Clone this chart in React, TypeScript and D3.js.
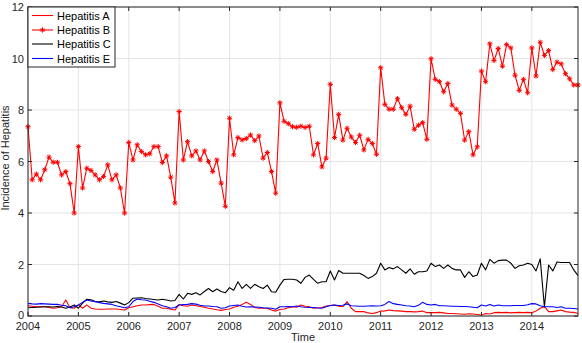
import React from "react";
import * as d3 from "d3";

const startYear = 2004;
const yearTicks = [2004, 2005, 2006, 2007, 2008, 2009, 2010, 2011, 2012, 2013, 2014];
const yTicks = [0, 2, 4, 6, 8, 10, 12];
const seriesNames = ["Hepatitis A", "Hepatitis B", "Hepatitis C", "Hepatitis E"];
const seriesColors = ["#ff0000", "#ff0000", "#000000", "#0000ff"];

const hepA = [
  0.40, 0.38, 0.36, 0.36, 0.36, 0.33, 0.30, 0.32, 0.36, 0.62, 0.32, 0.30,
  0.43, 0.30, 0.43, 0.30, 0.27, 0.26, 0.26, 0.27, 0.27, 0.27, 0.25, 0.23,
  0.32, 0.36, 0.40, 0.43, 0.43, 0.44, 0.45, 0.38, 0.30, 0.30, 0.26, 0.23,
  0.45, 0.40, 0.38, 0.43, 0.40, 0.37, 0.34, 0.30, 0.27, 0.24, 0.22, 0.25,
  0.27, 0.34, 0.38, 0.45, 0.53, 0.45, 0.33, 0.30, 0.30, 0.30, 0.23, 0.19,
  0.25, 0.27, 0.32, 0.36, 0.34, 0.43, 0.38, 0.36, 0.30, 0.32, 0.33, 0.39,
  0.41, 0.43, 0.38, 0.36, 0.56, 0.30, 0.17, 0.17, 0.17, 0.12, 0.10, 0.13,
  0.19, 0.20, 0.23, 0.21, 0.20, 0.19, 0.17, 0.17, 0.16, 0.17, 0.19, 0.13,
  0.13, 0.13, 0.14, 0.12, 0.10, 0.10, 0.09, 0.08, 0.07, 0.09, 0.08, 0.06,
  0.04, 0.10, 0.08, 0.13, 0.14, 0.13, 0.14, 0.12, 0.13, 0.14, 0.13, 0.14,
  0.13, 0.19, 0.30, 0.36, 0.17, 0.17, 0.20, 0.23, 0.17, 0.15, 0.14, 0.10,
];

const hepB = [
  7.35, 5.29, 5.51, 5.29, 5.68, 6.17, 5.97, 5.97, 5.48, 5.61, 5.14, 4.00,
  6.58, 4.97, 5.74, 5.65, 5.48, 5.29, 5.42, 5.87, 5.29, 5.48, 4.97, 4.00,
  6.74, 6.06, 6.65, 6.39, 6.26, 6.30, 6.58, 6.58, 5.96, 6.22, 5.39, 4.39,
  7.94, 6.06, 6.77, 6.22, 6.41, 6.06, 6.41, 6.00, 5.61, 6.06, 5.16, 4.26,
  7.68, 6.26, 6.93, 6.84, 6.89, 7.03, 6.81, 6.99, 6.13, 6.35, 5.61, 4.77,
  8.28, 7.56, 7.47, 7.35, 7.33, 7.37, 7.32, 7.37, 6.26, 6.70, 5.79, 6.13,
  9.00, 6.93, 7.83, 6.83, 7.29, 6.95, 6.74, 7.02, 6.45, 6.86, 6.70, 6.28,
  9.64, 8.22, 8.03, 8.03, 8.44, 8.09, 7.83, 8.15, 7.25, 7.41, 7.51, 6.86,
  9.99, 9.19, 9.10, 8.71, 9.03, 8.19, 8.03, 7.87, 6.83, 7.16, 6.26, 6.57,
  9.51, 9.10, 10.57, 9.92, 10.39, 9.70, 10.54, 10.41, 9.35, 8.76, 9.19, 8.67,
  10.41, 9.32, 10.63, 10.12, 10.31, 9.57, 9.86, 9.79, 9.41, 9.21, 8.97, 8.97,
];

const hepC = [
  0.32, 0.33, 0.34, 0.35, 0.36, 0.36, 0.35, 0.37, 0.35, 0.30, 0.35, 0.43,
  0.30, 0.50, 0.65, 0.63, 0.56, 0.55, 0.58, 0.55, 0.53, 0.56, 0.50, 0.43,
  0.52, 0.69, 0.70, 0.71, 0.68, 0.66, 0.64, 0.62, 0.65, 0.62, 0.58, 0.60,
  0.84, 0.66, 0.88, 0.84, 0.90, 0.82, 0.95, 1.07, 0.94, 1.05, 0.95, 0.90,
  1.10, 1.00, 1.33, 1.07, 1.23, 1.07, 1.23, 1.14, 1.07, 1.20, 0.94, 0.92,
  1.20, 1.42, 1.43, 1.43, 1.40, 1.27, 1.50, 1.59, 1.42, 1.27, 1.33, 1.33,
  1.75, 1.40, 1.77, 1.66, 1.66, 1.66, 1.66, 1.66, 1.57, 1.46, 1.53, 1.66,
  2.05, 1.79, 1.88, 1.83, 1.92, 1.79, 1.66, 1.83, 1.62, 1.72, 1.72, 1.75,
  2.05, 1.92, 1.98, 1.85, 1.98, 1.85, 1.79, 1.79, 1.50, 1.72, 1.53, 1.59,
  2.05, 1.79, 2.20, 2.05, 2.15, 2.17, 2.17, 2.05, 1.85, 1.95, 1.98, 2.05,
  2.00, 1.75, 2.22, 0.35, 1.98, 1.75, 2.10, 2.08, 2.08, 2.08, 1.79, 1.57,
];

const hepE = [
  0.49, 0.47, 0.46, 0.48, 0.47, 0.46, 0.45, 0.45, 0.42, 0.40, 0.32, 0.36,
  0.43, 0.53, 0.62, 0.58, 0.56, 0.52, 0.49, 0.47, 0.45, 0.40, 0.36, 0.32,
  0.36, 0.56, 0.66, 0.63, 0.62, 0.57, 0.53, 0.47, 0.40, 0.36, 0.30, 0.33,
  0.43, 0.44, 0.45, 0.48, 0.46, 0.42, 0.39, 0.39, 0.37, 0.36, 0.30, 0.32,
  0.39, 0.41, 0.43, 0.38, 0.35, 0.36, 0.35, 0.34, 0.32, 0.31, 0.30, 0.26,
  0.36, 0.36, 0.37, 0.36, 0.39, 0.36, 0.34, 0.33, 0.33, 0.31, 0.30, 0.36,
  0.41, 0.43, 0.41, 0.42, 0.47, 0.40, 0.39, 0.38, 0.38, 0.39, 0.40, 0.39,
  0.40, 0.45, 0.56, 0.48, 0.45, 0.43, 0.40, 0.39, 0.36, 0.42, 0.53, 0.45,
  0.43, 0.45, 0.40, 0.40, 0.39, 0.38, 0.38, 0.37, 0.37, 0.36, 0.34, 0.32,
  0.43, 0.39, 0.45, 0.39, 0.43, 0.40, 0.40, 0.40, 0.41, 0.41, 0.41, 0.44,
  0.48, 0.47, 0.40, 0.36, 0.36, 0.36, 0.33, 0.36, 0.30, 0.30, 0.29, 0.27,
];

const W = 582;
const H = 343;
const M = { left: 28, right: 4, top: 7, bottom: 27 };
const font = "'Liberation Sans', Arial, sans-serif";

export default function App() {
  const x = d3
    .scaleLinear()
    .domain([startYear, startYear + (hepB.length - 1) / 12])
    .range([M.left, W - M.right]);
  const y = d3.scaleLinear().domain([0, 12]).range([H - M.bottom, M.top]);
  const t = (i: number) => startYear + i / 12;
  const line = d3
    .line<number>()
    .x((_, i) => x(t(i)))
    .y((d) => y(d));
  const all = [hepA, hepB, hepC, hepE];
  const x0 = M.left;
  const x1 = W - M.right;
  const y0 = H - M.bottom;
  const y1 = M.top;
  const tick = 4;
  const star = (cx: number, cy: number, color: string, key: number | string) => {
    const r = 2.6;
    const d = 0.707 * r;
    return (
      <g key={key} stroke={color} strokeWidth={1}>
        <line x1={cx - r} y1={cy} x2={cx + r} y2={cy} />
        <line x1={cx} y1={cy - r} x2={cx} y2={cy + r} />
        <line x1={cx - d} y1={cy - d} x2={cx + d} y2={cy + d} />
        <line x1={cx - d} y1={cy + d} x2={cx + d} y2={cy - d} />
      </g>
    );
  };
  const legendX = x0;
  const legendY = y1;
  const legendW = 87;
  const legendH = 60;
  const rowOffsets = [8.5, 23, 37, 51.5];
  return (
    <svg
      width={W}
      height={H}
      style={{ position: "absolute", left: 0, top: 0, background: "#fff" }}
      fontFamily={font}
    >
      <rect x={0} y={0} width={W} height={H} fill="#fff" />
      {yearTicks.map((yr) => (
        <line key={"gx" + yr} x1={x(yr)} x2={x(yr)} y1={y0} y2={y1} stroke="#e4e4e4" strokeWidth={1} />
      ))}
      {yTicks.map((v) => (
        <line key={"gy" + v} x1={x0} x2={x1} y1={y(v)} y2={y(v)} stroke="#e4e4e4" strokeWidth={1} />
      ))}
      {all.map((s, k) => (
        <path key={"s" + k} d={line(s) || ""} fill="none" stroke={seriesColors[k]} strokeWidth={1.1} strokeLinejoin="round" />
      ))}
      {hepB.map((v, i) => star(x(t(i)), y(v), seriesColors[1], i))}
      <rect x={x0} y={y1} width={x1 - x0} height={y0 - y1} fill="none" stroke="#262626" strokeWidth={1} />
      {yearTicks.map((yr) => (
        <g key={"tx" + yr} stroke="#262626">
          <line x1={x(yr)} x2={x(yr)} y1={y0} y2={y0 - tick} />
          <line x1={x(yr)} x2={x(yr)} y1={y1} y2={y1 + tick} />
        </g>
      ))}
      {yTicks.map((v) => (
        <g key={"ty" + v} stroke="#262626">
          <line x1={x0} x2={x0 + tick} y1={y(v)} y2={y(v)} />
          <line x1={x1} x2={x1 - tick} y1={y(v)} y2={y(v)} />
        </g>
      ))}
      {yearTicks.map((yr) => (
        <text key={"lx" + yr} x={x(yr)} y={y0 + 13.5} fontSize={11} textAnchor="middle" fill="#262626">
          {yr}
        </text>
      ))}
      {yTicks.map((v) => (
        <text key={"ly" + v} x={x0 - 4} y={y(v) + (v === 0 ? 3 : 4)} fontSize={11} textAnchor="end" fill="#262626">
          {v}
        </text>
      ))}
      <text x={(x0 + x1) / 2} y={H - 2} fontSize={11} textAnchor="middle" fill="#262626">
        Time
      </text>
      <text
        transform={`translate(9, 158) rotate(-90)`}
        fontSize={11}
        textAnchor="middle"
        fill="#262626"
      >
        Incidence of Hepatitis
      </text>
      <rect x={legendX} y={legendY} width={legendW} height={legendH} fill="#fff" stroke="#262626" strokeWidth={1} />
      {seriesNames.map((name, k) => {
        const ry = legendY + rowOffsets[k];
        return (
          <g key={"lg" + k}>
            <line x1={legendX + 4} x2={legendX + 25} y1={ry} y2={ry} stroke={seriesColors[k]} strokeWidth={1.1} />
            {k === 1 ? star(legendX + 14.5, ry, seriesColors[k], "legstar") : null}
            <text x={legendX + 29} y={ry + 4} fontSize={11} fill="#000">
              {name}
            </text>
          </g>
        );
      })}
    </svg>
  );
}
